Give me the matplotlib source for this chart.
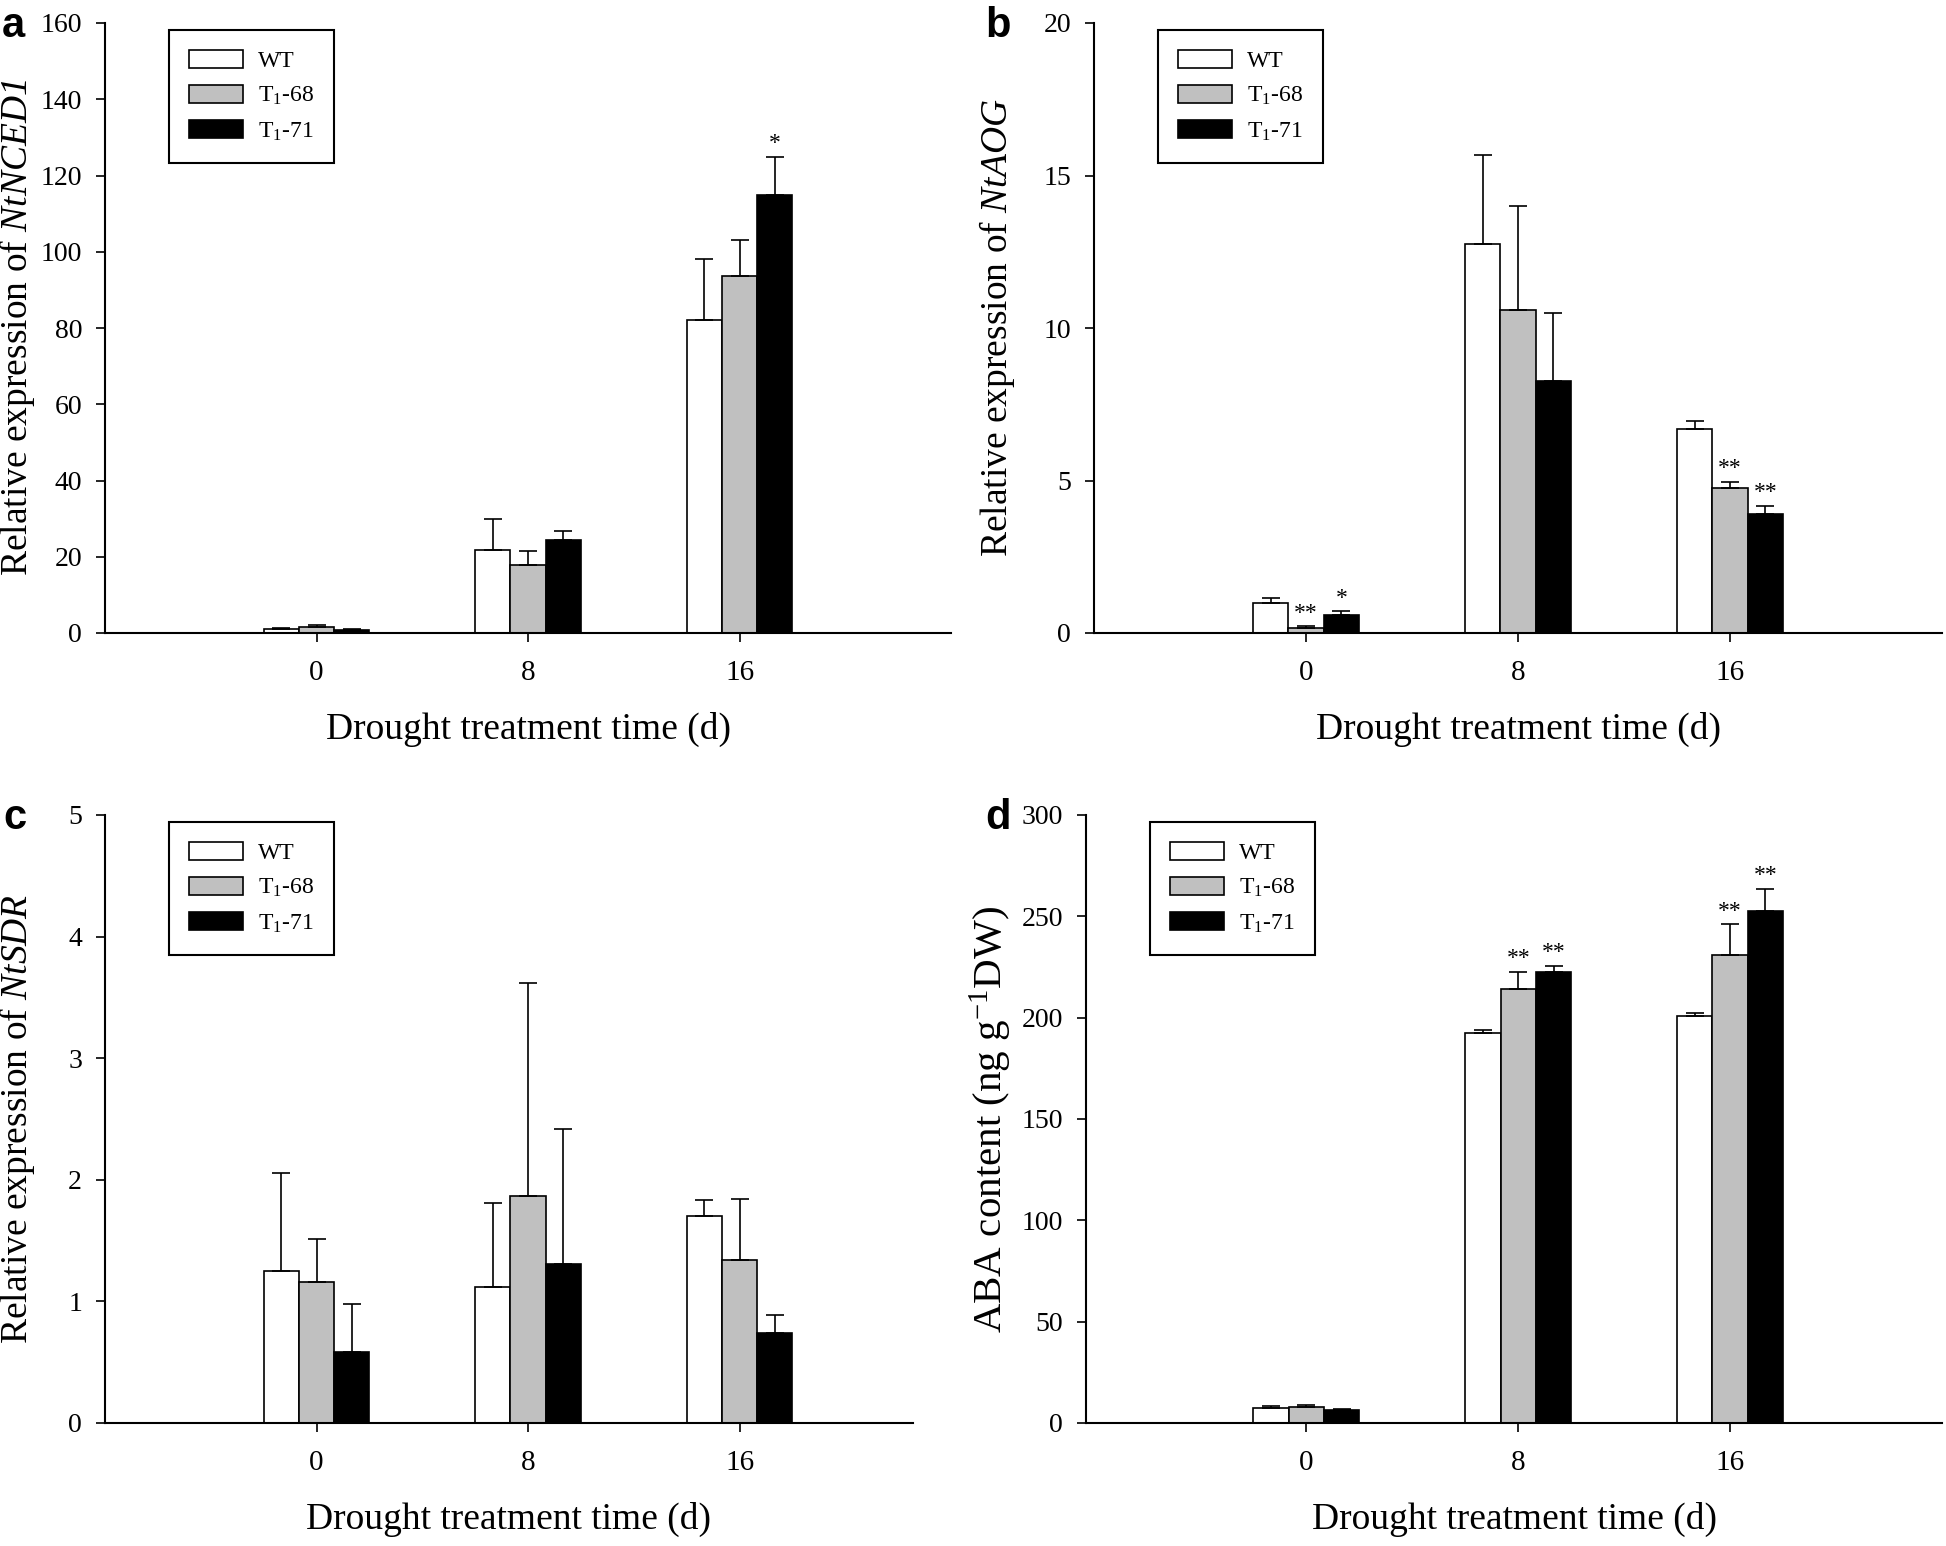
import matplotlib
matplotlib.use('Agg')
import matplotlib.pyplot as plt
from matplotlib.patches import Patch

plt.rcParams['font.family'] = 'Liberation Serif'
plt.rcParams['mathtext.fontset'] = 'custom'
plt.rcParams['mathtext.rm'] = 'Liberation Serif'
plt.rcParams['mathtext.it'] = 'Liberation Serif:italic'
# italic digits too (gene names like NtNCED1)
plt.rcParams['mathtext.sf'] = 'Liberation Serif:italic'

days = ['0', '8', '16']
lines = ['WT', 'T$_1$-68', 'T$_1$-71']
colors = ['white', '#c0c0c0', 'black']

# a - NtNCED1
nced_wt = [1.0, 21.8, 82.0]
nced_wt_err = [0.3, 8.0, 16.0]
nced_68 = [1.6, 17.8, 93.6]
nced_68_err = [0.5, 3.8, 9.5]
nced_71 = [0.8, 24.3, 115.0]
nced_71_err = [0.2, 2.4, 9.8]
nced_sig_68 = ['', '', '']
nced_sig_71 = ['', '', '*']

# b - NtAOG
aog_wt = [1.0, 12.76, 6.68]
aog_wt_err = [0.16, 2.9, 0.27]
aog_68 = [0.16, 10.6, 4.75]
aog_68_err = [0.06, 3.4, 0.2]
aog_71 = [0.6, 8.25, 3.9]
aog_71_err = [0.11, 2.25, 0.28]
aog_sig_68 = ['**', '', '**']
aog_sig_71 = ['*', '', '**']

# c - NtSDR
sdr_wt = [1.25, 1.12, 1.70]
sdr_wt_err = [0.81, 0.69, 0.13]
sdr_68 = [1.16, 1.87, 1.34]
sdr_68_err = [0.35, 1.75, 0.50]
sdr_71 = [0.58, 1.31, 0.74]
sdr_71_err = [0.40, 1.11, 0.15]
sdr_sig_68 = ['', '', '']
sdr_sig_71 = ['', '', '']

# d - ABA content
aba_wt = [7.5, 192.5, 201.0]
aba_wt_err = [0.8, 1.5, 1.5]
aba_68 = [8.0, 214.0, 231.0]
aba_68_err = [0.7, 8.5, 15.0]
aba_71 = [6.5, 222.5, 252.5]
aba_71_err = [0.5, 3.0, 11.0]
aba_sig_68 = ['', '**', '**']
aba_sig_71 = ['', '**', '**']

W, H = 1946, 1546
fig = plt.figure(figsize=(W / 100, H / 100), dpi=100)


def panel(box, xlim, series, ymax, ystep, ylabel, ylab_px, letter, letter_px, ylab_size=27):
    l, r, t, b = box
    ax = fig.add_axes([l / W, 1 - b / H, (r - l) / W, (b - t) / H])
    w = 1 / 6
    for k, (vals, errs, sig) in enumerate(series):
        pos = [i + (k - 1) * w for i in range(3)]
        ax.bar(pos, vals, w, color=colors[k], edgecolor='black', linewidth=1.2,
               yerr=[[0, 0, 0], errs],
               error_kw=dict(ecolor='black', elinewidth=1.2, capsize=6.5, capthick=1.2))
        for p, v, e, s in zip(pos, vals, errs, sig):
            if s:
                ax.annotate(s, (p, v + e), xytext=(0, 2), textcoords='offset points',
                            ha='center', va='bottom', fontsize=17)
    ax.set_xlim(xlim)
    ax.set_ylim(0, ymax)
    ax.set_xticks(range(3))
    ax.set_xticklabels(days)
    ax.set_yticks(range(0, ymax + 1, ystep))
    for s in ['top', 'right']:
        ax.spines[s].set_visible(False)
    for s in ['left', 'bottom']:
        ax.spines[s].set_linewidth(1.5)
    ax.tick_params(direction='out', length=6.5, width=1.2, labelsize=20, pad=10)
    ax.tick_params(axis='x', labelsize=21, pad=13)
    ax.set_xlabel('Drought treatment time (d)', fontsize=27)
    ax.xaxis.set_label_coords(0.5, -0.13)
    ax.set_ylabel(ylabel, fontsize=ylab_size)
    ax.yaxis.set_label_coords((ylab_px - l) / (r - l), 0.5)
    handles = [Patch(facecolor=c, edgecolor='black', linewidth=1.2, label=n)
               for c, n in zip(colors, lines)]
    leg = ax.legend(handles=handles, loc='upper left',
                    bbox_to_anchor=(64 / (r - l), 1 - 7 / (b - t)),
                    fontsize=17, fancybox=False, edgecolor='black', framealpha=1,
                    handlelength=2.3, handleheight=0.76, labelspacing=0.55,
                    handletextpad=0.6, borderpad=0.85, borderaxespad=0)
    leg.get_frame().set_linewidth(1.5)
    fig.text(letter_px[0] / W, 1 - letter_px[1] / H, letter, fontfamily='Liberation Sans',
             fontweight='bold', fontsize=30, va='center', ha='left')
    return ax


panel((105, 951, 23, 633), (-1, 3),
      [(nced_wt, nced_wt_err, ['', '', '']), (nced_68, nced_68_err, nced_sig_68),
       (nced_71, nced_71_err, nced_sig_71)],
      160, 20, r'Relative expression of $\mathsf{NtNCED1}$', 37, 'a', (2, 26))

panel((1094, 1942, 23, 633), (-1, 3),
      [(aog_wt, aog_wt_err, ['', '', '']), (aog_68, aog_68_err, aog_sig_68),
       (aog_71, aog_71_err, aog_sig_71)],
      20, 5, r'Relative expression of $\mathsf{NtAOG}$', 1017, 'b', (985, 26))

panel((105, 913, 815, 1423), (-1, 2.82),
      [(sdr_wt, sdr_wt_err, ['', '', '']), (sdr_68, sdr_68_err, sdr_sig_68),
       (sdr_71, sdr_71_err, sdr_sig_71)],
      5, 1, r'Relative expression of $\mathsf{NtSDR}$', 37, 'c', (3, 818))

panel((1086, 1942, 815, 1423), (-1.04, 3),
      [(aba_wt, aba_wt_err, ['', '', '']), (aba_68, aba_68_err, aba_sig_68),
       (aba_71, aba_71_err, aba_sig_71)],
      300, 50, r'ABA content (ng g$^{\mathrm{-1}}$DW)', 1014, 'd', (985, 818), ylab_size=29.5)

fig.savefig('out.png', dpi=100)
